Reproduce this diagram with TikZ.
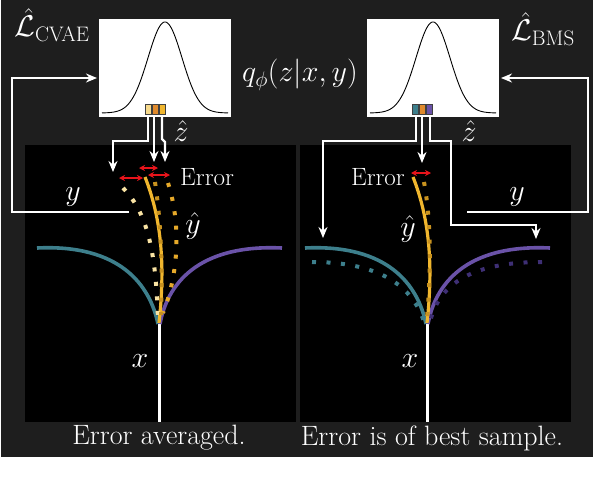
\documentclass[tikz,border=0pt]{standalone}
\usepackage{fix-cm}
\usetikzlibrary{arrows.meta}
\definecolor{bg}{HTML}{1E1E1E}
\definecolor{tealc}{HTML}{3D7F8C}
\definecolor{purc}{HTML}{6A52A8}
\definecolor{purd}{HTML}{3E2F75}
\definecolor{yelc}{HTML}{F0B62E}
\definecolor{palec}{HTML}{F9E3A3}
\definecolor{dgold}{HTML}{C8921F}
\definecolor{mgold}{HTML}{E6A92A}
\definecolor{orc}{HTML}{E08A2C}
\definecolor{redc}{HTML}{E8141B}
\begin{document}
\begin{tikzpicture}[x=1pt,y=-1pt,
  every node/.style={font=\fontsize{30}{36}\selectfont, text=white, inner sep=0pt},
  errlab/.style={font=\fontsize{25}{30}\selectfont},
  caplab/.style={font=\fontsize{28}{33}\selectfont},
  panel/.style={fill=black, minimum width=271pt, minimum height=277pt},
  gbox/.style={fill=white, minimum width=132pt, minimum height=98pt},
  wline/.style={draw=white, line width=2.2pt},
  warrow/.style={wline, -{Stealth[length=11pt,width=9pt]}},
  rarrow/.style={draw=redc, line width=1.4pt, {Stealth[length=6pt,width=6pt]}-{Stealth[length=6pt,width=6pt]}},
  curve/.style={line width=3.6pt},
  dotsq/.style={line width=4pt, dash pattern=on 4pt off 10.5pt},
  barc/.style={draw=black!75, line width=0.5pt}
]
\useasboundingbox (0,0) rectangle (610,490);
\fill[white] (0,0) rectangle (610,490);
\fill[bg] (1,0) rectangle (593,457);

% panels and gaussian boxes
\node[panel] (pl) at (160.5,283.5) {};
\node[panel] (pr) at (435.5,283.5) {};
\node[gbox] (gl) at (165,68) {};
\node[gbox] (gr) at (433,68) {};

% gaussians
\draw[black, line width=0.9pt] plot[domain=-63:63, samples=120] ({165+\x}, {113-91*exp(-(\x*\x)/578)});
\draw[black, line width=0.9pt] plot[domain=-63:63, samples=120] ({433+\x}, {113-91*exp(-(\x*\x)/578)});

% sample bars
\filldraw[barc, fill=palec!80!yelc] (145,104) rectangle (151,114);
\filldraw[barc, fill=orc] (152,104) rectangle (158,114);
\filldraw[barc, fill=yelc] (159,104) rectangle (165,114);
\filldraw[barc, fill=tealc] (412,104) rectangle (418,114);
\filldraw[barc, fill=orc] (419,104) rectangle (425,114);
\filldraw[barc, fill=purc] (426,104) rectangle (432,114);

% x stems
\coordinate (xbl) at (159,323);
\coordinate (xbr) at (427,323);
\draw[wline, line width=3pt] (xbl) -- (xbl |- pl.south);
\draw[wline, line width=3pt] (xbr) -- (xbr |- pr.south);

% left panel curves
\draw[curve, tealc] (37,248) .. controls (120,244) and (150,285) .. (158,324);
\draw[curve, purc] (160,324) .. controls (167,285) and (197,244) .. (282,248);
\draw[curve, yelc, line width=3.2pt] (145,177) .. controls (160,215) and (166,260) .. (159,323);
\draw[dotsq, palec] (123,188) .. controls (150,215) and (156,260) .. (158,320);
\draw[dotsq, mgold] (168,183) .. controls (180,220) and (180,270) .. (163,313);
\draw[dotsq, dgold] (155,182) .. controls (160,215) and (163,260) .. (161,315);

% right panel curves
\draw[curve, tealc] (305,248) .. controls (388,244) and (418,285) .. (426,324);
\draw[curve, purc] (428,324) .. controls (435,285) and (465,244) .. (550,248);
\draw[curve, yelc, line width=3.2pt] (413,177) .. controls (428,215) and (434,260) .. (427,323);
\draw[dotsq, tealc] (312,262) .. controls (385,262) and (415,290) .. (425,325);
\draw[dotsq, purd] (542,262) .. controls (466,262) and (438,288) .. (430,322);
\draw[dotsq, dgold] (424,182) .. controls (430,215) and (432,260) .. (427,318);

% labels
\node (lc) at (52,25) {$\hat{\mathcal{L}}_{\mathrm{CVAE}}$};
\node (lb) at (543,29) {$\hat{\mathcal{L}}_{\mathrm{BMS}}$};
\node (q) at (300,75) {$q_\phi(z|x,y)$};
\node (zl) at (181,131) {$\hat{z}$};
\node (zr) at (469,131) {$\hat{z}$};
\node (yl) at (73,197) {$y$};
\node (yr) at (517,197) {$y$};
\node (yhl) at (193,226) {$\hat{y}$};
\node (yhr) at (408,229) {$\hat{y}$};
\node[errlab, anchor=west] (el) at (180,177) {Error};
\node[errlab, anchor=east] (er) at (405,177) {Error};
\node (xl) at (140,361) {$x$};
\node (xr) at (410,361) {$x$};
\node[caplab] (cl) at (159,438) {Error averaged.};
\node[caplab] (cr) at (432,438) {Error is of best sample.};

% connectors from the sample bars
\coordinate (bl1) at (148,117); \coordinate (tl1) at (113,172);
\coordinate (bl2) at (154,117); \coordinate (tl2) at (154,162);
\coordinate (bl3) at (162,117); \coordinate (tl3) at (165,162);
\draw[warrow] (bl1) -- ++(0,24) -| (tl1);
\draw[warrow] (bl2) -- (tl2);
\draw[warrow] (bl3) -- ++(0,22) -- ++(3,3) -- (tl3);

\coordinate (br1) at (416,117); \coordinate (tr1) at (323,238);
\coordinate (br2) at (422,117); \coordinate (tr2) at (422,163);
\coordinate (br3) at (430,117); \coordinate (tr3) at (536,239);
\coordinate (mr3) at (451,225);
\draw[warrow] (br1) -- ++(0,24) -| (tr1);
\draw[warrow] (br2) -- (tr2);
\draw[warrow] (br3) -- ++(0,24) -| (mr3) -| (tr3);

% y feedback
\coordinate (yinl) at (129,212); \coordinate (gla) at (97,78);
\coordinate (yinr) at (467,212); \coordinate (gra) at (501,78);
\draw[warrow] (yinl) -- (12,212) |- (gla);
\draw[warrow] (yinr) -- (588,212) |- (gra);

% error arrows
\draw[rarrow] (139,168) -- (158,168);
\draw[rarrow] (119,178) -- (143,178);
\draw[rarrow] (148,175) -- (170,175);
\draw[rarrow] (411,173) -- (431,173);
\end{tikzpicture}
\end{document}
